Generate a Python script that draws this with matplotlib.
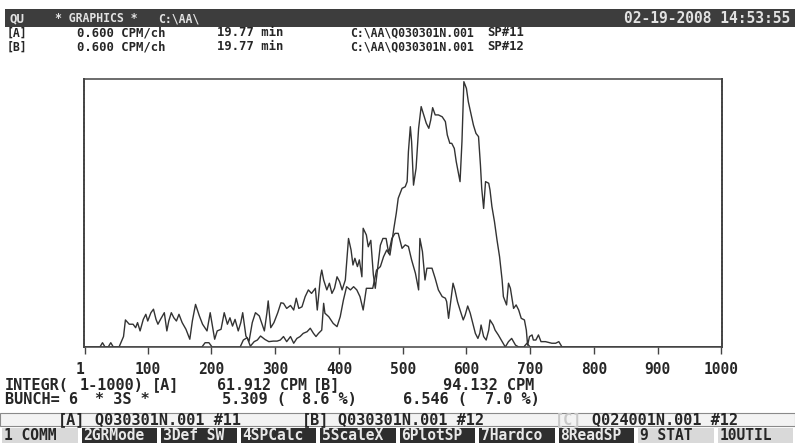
import matplotlib
matplotlib.use("Agg")
import matplotlib.pyplot as plt
from matplotlib.patches import Rectangle

# spectrum A (SP#11) and B (SP#12), channel vs counts (% of full scale 0.600 CPM/ch)
chan_a = [1, 50, 55, 62, 65, 71, 77, 81, 84, 88, 93, 97, 100, 105, 109, 113, 116, 120, 126, 130,
          133, 137, 141, 145, 149, 154, 160, 166, 170, 175, 181, 186, 193, 198, 201, 205, 209, 215,
          220, 225, 229, 233, 237, 242, 246, 249, 254, 259, 264, 269, 275, 283, 287, 289, 293, 298,
          304, 309, 313, 318, 324, 329, 333, 337, 342, 347, 352, 357, 363, 366, 371, 373, 376, 381,
          385, 389, 393, 397, 401, 405, 410, 415, 419, 422, 425, 429, 432, 436, 438, 443, 446, 450,
          454, 457, 461, 465, 469, 474, 478, 483, 488, 493, 499, 504, 509, 514, 520, 525, 527, 531,
          535, 538, 546, 551, 556, 562, 567, 569, 572, 579, 582, 586, 590, 595, 598, 602, 606, 610,
          614, 618, 621, 623, 627, 631, 635, 637, 642, 645, 650, 656, 661, 666, 671, 677, 682, 690,
          695, 700, 1000]
cnt_a = [0, 0, 0, 3.9, 10.1, 8.5, 8.5, 7.2, 9.1, 6.0, 10.3, 12.2, 9.7, 12.8, 14.1, 10.3, 8.5, 10.3, 12.8, 6.0,
         9.7, 12.8, 10.9, 9.7, 12.2, 9.1, 6.6, 2.9, 9.7, 15.9, 11.6, 8.5, 6.0, 12.8, 8.5, 2.9, 6.0, 6.6,
         12.8, 8.5, 10.9, 7.8, 10.3, 6.0, 9.1, 12.8, 4.1, 2.2, 9.1, 12.8, 11.6, 6.0, 12.8, 17.2, 7.2, 9.1,
         12.8, 16.5, 16.3, 14.4, 15.5, 13.8, 18.2, 14.4, 15.0, 18.8, 21.3, 20.0, 21.9, 13.8, 26.2, 28.7, 25.0, 21.3,
         23.8, 20.0, 21.9, 26.2, 24.4, 21.3, 25.0, 40.5, 36.2, 30.6, 33.1, 30.0, 32.5, 26.2, 44.3, 41.8, 37.4, 39.8,
         26.9, 21.9, 30.0, 38.0, 40.5, 40.5, 35.0, 40.5, 42.4, 42.4, 36.8, 38.1, 37.5, 32.5, 27.5, 21.3, 40.5, 35.6,
         25.0, 29.4, 29.4, 25.6, 21.3, 18.8, 18.2, 16.9, 10.7, 23.8, 21.3, 16.9, 13.8, 10.1, 11.9, 15.3, 12.6, 8.8,
         5.1, 3.2, 5.1, 8.2, 3.9, 2.6, 6.3, 10.1, 8.2, 6.3, 4.5, 2.0, 0, 2.0, 3.2, 0.7, 0, 0,
         1.4, 0, 0]

chan_b = [1, 25, 29, 33, 38, 42, 46, 185, 190, 196, 201, 245, 250, 256, 261, 267, 272, 277, 284, 290,
          297, 303, 308, 313, 318, 324, 329, 334, 339, 344, 350, 355, 360, 364, 368, 373, 376, 378,
          384, 391, 397, 402, 407, 412, 418, 423, 428, 433, 438, 443, 448, 453, 459, 465, 470, 475,
          480, 486, 490, 493, 499, 504, 507, 509, 512, 514, 517, 521, 525, 529, 533, 537, 541, 544,
          547, 551, 556, 562, 567, 570, 574, 577, 581, 584, 588, 590, 593, 596, 600, 603, 607, 611,
          615, 619, 622, 624, 627, 630, 635, 637, 640, 644, 648, 652, 656, 658, 663, 666, 669, 671,
          674, 678, 682, 686, 691, 694, 696, 699, 703, 705, 709, 713, 717, 724, 734, 740, 745, 750,
          1000]
cnt_b = [0, 0, 1.6, 0, 0, 1.6, 0, 0, 1.6, 1.6, 0, 0, 2.6, 3.5, 0.3, 2.0, 2.6, 4.1, 2.8, 2.0,
         2.2, 2.2, 2.6, 3.9, 2.0, 3.9, 1.4, 3.2, 3.9, 5.1, 5.7, 7.0, 5.1, 3.9, 5.1, 6.3, 16.3, 12.6,
         11.3, 8.8, 7.6, 11.3, 17.5, 22.5, 21.3, 22.5, 21.3, 18.8, 13.8, 21.9, 21.9, 21.9, 28.7, 30.0, 33.7, 36.2,
         34.3, 44.0, 50.0, 55.5, 59.2, 59.8, 61.7, 72.9, 82.2, 76.6, 60.4, 66.7, 81.6, 89.7, 86.6, 83.5, 81.6, 84.7,
         89.3, 86.6, 86.6, 85.9, 84.1, 79.1, 76.0, 76.0, 74.1, 69.2, 64.2, 61.7, 76.6, 99.0, 96.5, 91.5, 87.2, 82.8,
         79.7, 78.5, 67.9, 59.2, 51.7, 61.7, 61.1, 58.6, 52.4, 46.8, 39.9, 33.7, 25.0, 18.8, 15.7, 23.8, 21.9, 18.8,
         14.4, 15.7, 13.8, 10.7, 10.1, 6.3, 0.7, 3.9, 4.5, 2.6, 2.6, 4.5, 2.0, 2.0, 1.4, 1.4, 2.0, 0,
         0]

ticks = [1, 100, 200, 300, 400, 500, 600, 700, 800, 900, 1000]
fkeys = ['1 COMM', '2GRMode', '3Def SW', '4SPCalc', '5ScaleX', '6PlotSP',
         '7Hardco', '8ReadSP', '9 STAT', '10UTIL']
fkey_dark = [False, True, True, True, True, True, True, True, False, False]

W, H = 795, 443
MONO = 'DejaVu Sans Mono'
INK = '#262626'

fig = plt.figure(figsize=(W / 100, H / 100), dpi=100)
fig.patch.set_facecolor('white')


def put(x, y, s, size=8.3, color=INK, ha='left', weight='bold'):
    fig.text(x / W, 1 - y / H, s, fontsize=size, color=color, ha=ha, va='center',
             family=MONO, weight=weight)


def box(x0, y0, x1, y1, fc, ec='none', lw=0):
    fig.patches.append(Rectangle((x0 / W, 1 - y1 / H), (x1 - x0) / W, (y1 - y0) / H,
                                 transform=fig.transFigure, facecolor=fc, edgecolor=ec,
                                 linewidth=lw, zorder=0))


# header bar
box(5, 9, 795, 27, '#3d3d3d')
put(10, 18.5, 'QU', size=9, color='#e2e2e2')
put(55, 18.5, '* GRAPHICS *', size=8.3, color='#e2e2e2')
put(158, 18.5, 'C:\\AA\\', size=8.3, color='#e2e2e2')
put(790, 18.5, '02-19-2008 14:53:55', size=10.5, color='#e2e2e2', ha='right')

for y, tag, sp in [(33, '[A]', 'SP#11'), (47, '[B]', 'SP#12')]:
    put(7, y, tag)
    put(77, y, '0.600 CPM/ch', size=8.8)
    put(217, y, '19.77 min', size=8.8)
    put(350, y, 'C:\\AA\\Q030301N.001')
    put(487, y, sp, size=8.8)

# spectrum window
ax = fig.add_axes([84 / W, 1 - 347 / H, 638 / W, 268 / H])
ax.plot(chan_a, cnt_a, color='#333333', lw=1.0)
ax.plot(chan_b, cnt_b, color='#333333', lw=1.0)
ax.set_xlim(0, 1001)
ax.set_ylim(0, 100)
ax.set_yticks([])
ax.set_xticks(ticks)
ax.set_xticklabels([str(t) for t in ticks], family=MONO, weight='bold', fontsize=10.5, color=INK)
ax.get_xticklabels()[0].set_ha('right')
ax.tick_params(axis='x', direction='out', length=5, width=1, color='#444444', pad=6)
for side in ['top', 'bottom']:
    ax.spines[side].set_color('#444444')
    ax.spines[side].set_linewidth(1.1)
for side in ['left', 'right']:
    ax.spines[side].set_color('#444444')
    ax.spines[side].set_linewidth(1.4)
    ax.spines[side].set_linestyle((0, (1.4, 0.7)))

# integral / bunch lines
put(5, 385, 'INTEGR(', size=11)
put(80, 385, '1-1000)', size=11)
put(152, 385, '[A]', size=11)
put(217, 385, '61.912 CPM', size=10.8)
put(313, 385, '[B]', size=11)
put(443, 385, '94.132 CPM', size=11)

put(5, 400, 'BUNCH= 6', size=11)
put(95, 400, '* 3S *', size=11)
put(222, 400, '5.309 (', size=11)
put(302, 400, '8.6 %)', size=11)
put(403, 400, '6.546 (', size=11)
put(485, 400, '7.0 %)', size=11)

# file selection strip
box(0, 413, 795, 426, '#f3f3f3', ec='#8a8a8a', lw=0.8)
put(58, 419.5, '[A]', size=11)
put(95, 419.5, 'Q030301N.001 #11', size=11)
put(302, 419.5, '[B]', size=11)
put(338, 419.5, 'Q030301N.001 #12', size=11)
put(555, 419.5, '[C]', size=11, color='#c8c8c8')
put(592, 419.5, 'Q024001N.001 #12', size=11)

# function key row
kw = W / len(fkeys)
for i, (lab, dark) in enumerate(zip(fkeys, fkey_dark)):
    x0 = i * kw
    box(x0 + 2, 428, x0 + kw - 2, 443, '#2e2e2e' if dark else '#d9d9d9')
    put(x0 + 4, 435.5, lab, size=10.5, color='#e8e8e8' if dark else INK)

fig.savefig('out.png', dpi=100)
